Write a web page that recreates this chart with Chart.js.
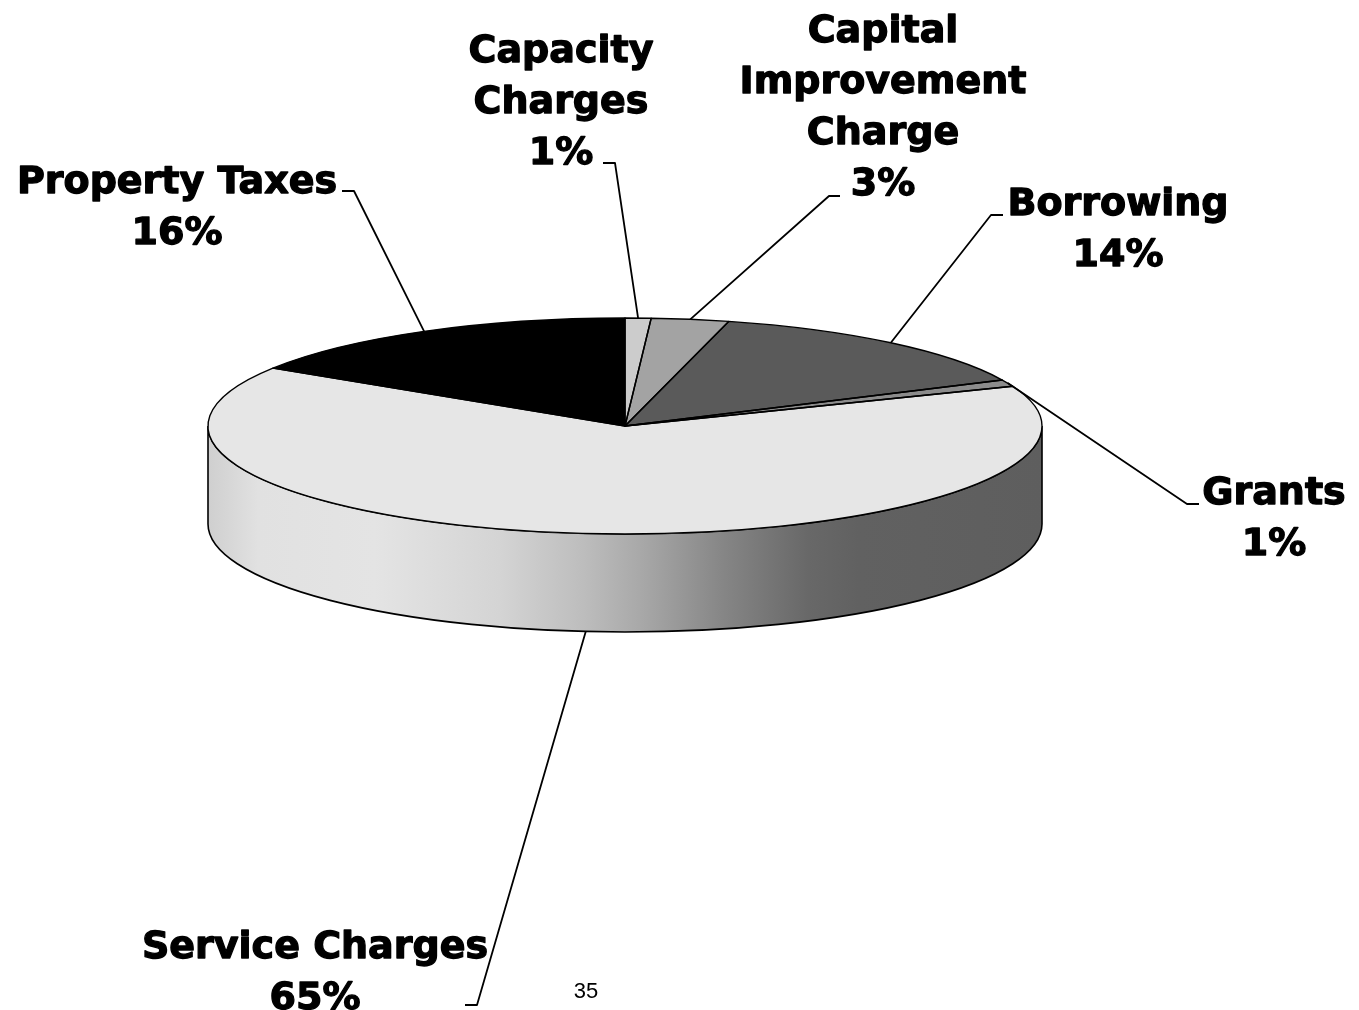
<!DOCTYPE html>
<html lang="en">
<head>
<meta charset="UTF-8">
<title>Revenue Sources</title>
<script src="https://cdn.jsdelivr.net/npm/chart.js"></script>
<style>
    html, body { margin: 0; padding: 0; background: #fff; }
    .wrap { position: relative; width: 1359px; height: 1010px; }
    #pie { display: block; }
    .page-no {
        position: absolute; left: 560px; width: 52px; top: 978px;
        text-align: center; color: #000;
        font: 22px 'Liberation Sans', Arial, sans-serif;
    }
</style>
</head>
<body>
<div class="wrap">
    <canvas id="pie" width="1359" height="1010"></canvas>
    <div class="page-no">35</div>
</div>
<script>
const categories = ['Capacity Charges', 'Capital Improvement Charge', 'Borrowing', 'Grants', 'Service Charges', 'Property Taxes'];
const shares = [1, 3, 14, 1, 65, 16];
const sliceColors = ['#cccccc', '#a3a3a3', '#5a5a5a', '#8c8c8c', '#e6e6e6', '#000000'];
// the labels as they are wrapped in the picture
const labelLines = [['Capacity', 'Charges'], ['Capital', 'Improvement', 'Charge'], ['Borrowing'], ['Grants'], ['Service Charges'], ['Property Taxes']];

// 3d look
const tilt = 108 / 417;   // squash of the top face
const depth = 98;         // height of the side wall
// light falls from the left: brightness along the wall, left -> right
const shade = [[0, 0.9], [0.06, 0.98], [0.2, 0.99], [0.35, 0.92], [0.45, 0.82], [0.52, 0.73], [0.62, 0.58], [0.72, 0.45], [0.78, 0.42], [1, 0.41]];

// label block: centre x, first baseline, end of leader and its elbow
const lineGap = 51;
const labelPos = [
    {x: 561, y: 62, end: [603, 163], elbow: [615, 163]},
    {x: 883, y: 42, end: [840, 196], elbow: [829, 196]},
    {x: 1118, y: 215, end: [1003, 215], elbow: [991, 215]},
    {x: 1274, y: 504, end: [1199, 504], elbow: [1187, 504]},
    {x: 315, y: 958, end: [465, 1005], elbow: [477, 1005]},
    {x: 177, y: 193, end: [342, 191], elbow: [354, 191]}
];

const scaleColor = (hex, f) => {
    const n = parseInt(hex.slice(1), 16);
    const c = [n >> 16, (n >> 8) & 255, n & 255].map(v => Math.round(Math.min(255, v * f)));
    return `rgb(${c[0]}, ${c[1]}, ${c[2]})`;
};

const pie3d = {
    id: 'pie3d',
    beforeDatasetsDraw(chart) {
        const ctx = chart.ctx;
        const arcs = chart.getDatasetMeta(0).data;
        const cx = arcs[0].x, cy = arcs[0].y, r = arcs[0].outerRadius;
        const ry = r * tilt;

        // side wall, only the front half (0..PI) shows
        arcs.forEach((arc, i) => {
            const a = Math.max(arc.startAngle, 0);
            const b = Math.min(arc.endAngle, Math.PI);
            if (b <= a) return;
            const grad = ctx.createLinearGradient(cx - r, 0, cx + r, 0);
            shade.forEach(([t, f]) => grad.addColorStop(t, scaleColor(sliceColors[i], f)));
            ctx.beginPath();
            ctx.ellipse(cx, cy, r, ry, 0, a, b);
            ctx.ellipse(cx, cy + depth, r, ry, 0, b, a, true);
            ctx.closePath();
            ctx.fillStyle = grad;
            ctx.fill();
            ctx.lineWidth = 1.6;
            ctx.strokeStyle = '#000';
            ctx.stroke();
        });

        // the library draws the top face into a squashed space
        ctx.save();
        ctx.translate(0, cy);
        ctx.scale(1, tilt);
        ctx.translate(0, -cy);
    },
    afterDatasetsDraw(chart) {
        const ctx = chart.ctx;
        ctx.restore();
        const arcs = chart.getDatasetMeta(0).data;
        const cx = arcs[0].x, cy = arcs[0].y, r = arcs[0].outerRadius;
        const ry = r * tilt;
        const total = shares.reduce((s, v) => s + v, 0);

        ctx.save();
        ctx.lineWidth = 1.4;
        ctx.strokeStyle = '#000';
        ctx.lineJoin = 'round';
        arcs.forEach(arc => {
            ctx.beginPath();
            ctx.moveTo(cx, cy);
            ctx.ellipse(cx, cy, r, ry, 0, arc.startAngle, arc.endAngle);
            ctx.closePath();
            ctx.stroke();
        });

        ctx.font = 'bold 38px "DejaVu Sans", Verdana, sans-serif';
        ctx.textAlign = 'center';
        ctx.textBaseline = 'alphabetic';
        ctx.fillStyle = '#000';
        arcs.forEach((arc, i) => {
            const p = labelPos[i];
            const lines = labelLines[i].concat(Math.round(shares[i] / total * 100) + '%');
            ctx.lineWidth = 1.3;
            ctx.strokeStyle = '#000';
            lines.forEach((t, j) => {
                ctx.fillText(t, p.x, p.y + j * lineGap);
                ctx.strokeText(t, p.x, p.y + j * lineGap);
            });

            const mid = (arc.startAngle + arc.endAngle) / 2;
            const ax = cx + r * Math.cos(mid);
            let ay = cy + ry * Math.sin(mid);
            if (Math.sin(mid) > 0) ay += depth;
            ctx.beginPath();
            ctx.moveTo(p.end[0], p.end[1]);
            ctx.lineTo(p.elbow[0], p.elbow[1]);
            ctx.lineTo(ax, ay);
            ctx.lineWidth = 1.8;
            ctx.stroke();
        });
        ctx.restore();
    }
};

new Chart(document.getElementById('pie'), {
    type: 'pie',
    data: {
        labels: categories,
        datasets: [{
            data: shares,
            backgroundColor: sliceColors,
            borderWidth: 0,
            offset: 0,
            hoverOffset: 0
        }]
    },
    options: {
        responsive: false,
        animation: false,
        devicePixelRatio: 1,
        events: [],
        layout: { padding: { left: 208, right: 317, top: 9, bottom: 167 } },
        plugins: {
            legend: { display: false },
            tooltip: { enabled: false }
        }
    },
    plugins: [pie3d]
});
</script>
</body>
</html>
